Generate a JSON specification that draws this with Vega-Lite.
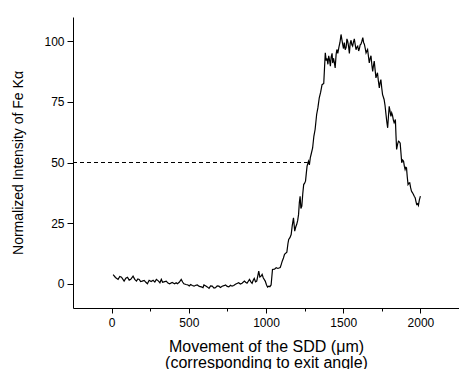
{
  "$schema": "https://vega.github.io/schema/vega-lite/v6.json",
  "width": 386,
  "height": 291,
  "autosize": {"type": "none"},
  "padding": {"left": 73, "top": 17, "right": 0, "bottom": 61},
  "background": "white",
  "config": {
    "view": {"stroke": null},
    "font": "Liberation Sans",
    "axis": {
      "domainColor": "black",
      "tickColor": "black",
      "labelColor": "black",
      "titleColor": "black",
      "labelFont": "Liberation Sans",
      "titleFont": "Liberation Sans",
      "titleFontWeight": "normal",
      "labelFontSize": 12,
      "grid": false,
      "domainWidth": 1,
      "tickWidth": 1
    }
  },
  "datasets": {
    "curve": [
      {"x": 10, "y": 3.8}, {"x": 25, "y": 2.6}, {"x": 42, "y": 1.8}, {"x": 53, "y": 3.0}, {"x": 64, "y": 2.7}, {"x": 81, "y": 1.1},
      {"x": 92, "y": 2.3}, {"x": 103, "y": 2.7}, {"x": 114, "y": 1.5}, {"x": 124, "y": 1.8}, {"x": 139, "y": 3.1}, {"x": 150, "y": 1.8},
      {"x": 161, "y": 1.1}, {"x": 170, "y": 2.0}, {"x": 179, "y": 1.8}, {"x": 188, "y": 0.9}, {"x": 198, "y": 1.1}, {"x": 211, "y": 1.4},
      {"x": 222, "y": 0.6}, {"x": 232, "y": 0.0}, {"x": 243, "y": 1.4}, {"x": 256, "y": 0.9}, {"x": 269, "y": 1.4}, {"x": 280, "y": 0.7},
      {"x": 290, "y": 1.8}, {"x": 304, "y": 1.1}, {"x": 313, "y": 0.4}, {"x": 322, "y": 1.8}, {"x": 330, "y": 0.6}, {"x": 339, "y": 0.8},
      {"x": 354, "y": 1.1}, {"x": 365, "y": 0.3}, {"x": 376, "y": 0.0}, {"x": 392, "y": 0.5}, {"x": 408, "y": 0.0}, {"x": 418, "y": 0.4},
      {"x": 426, "y": 0.0}, {"x": 438, "y": 0.6}, {"x": 451, "y": 1.8}, {"x": 460, "y": 0.7}, {"x": 468, "y": 0.0}, {"x": 482, "y": -0.3},
      {"x": 495, "y": -0.5}, {"x": 503, "y": -0.9}, {"x": 512, "y": -0.3}, {"x": 523, "y": -0.7}, {"x": 534, "y": -1.0}, {"x": 545, "y": -0.6},
      {"x": 555, "y": -0.5}, {"x": 568, "y": -1.1}, {"x": 582, "y": -1.3}, {"x": 592, "y": -1.6}, {"x": 598, "y": -0.5}, {"x": 613, "y": -1.0},
      {"x": 622, "y": -1.4}, {"x": 631, "y": -1.9}, {"x": 641, "y": -0.9}, {"x": 652, "y": -1.0}, {"x": 663, "y": -1.8}, {"x": 673, "y": -1.6},
      {"x": 684, "y": -0.9}, {"x": 695, "y": -1.0}, {"x": 705, "y": -1.5}, {"x": 716, "y": -1.0}, {"x": 727, "y": -0.8}, {"x": 738, "y": -0.5},
      {"x": 749, "y": -1.1}, {"x": 759, "y": -1.3}, {"x": 770, "y": -0.6}, {"x": 780, "y": -1.0}, {"x": 791, "y": -0.7}, {"x": 802, "y": -0.2},
      {"x": 812, "y": 0.1}, {"x": 823, "y": 0.4}, {"x": 834, "y": -0.1}, {"x": 845, "y": 0.2}, {"x": 860, "y": 1.1}, {"x": 868, "y": 0.6},
      {"x": 877, "y": 0.2}, {"x": 893, "y": 1.8}, {"x": 902, "y": 0.8}, {"x": 910, "y": 0.2}, {"x": 917, "y": 1.4}, {"x": 924, "y": 2.2},
      {"x": 932, "y": 0.8}, {"x": 940, "y": 1.1}, {"x": 947, "y": 3.2}, {"x": 953, "y": 5.2}, {"x": 960, "y": 2.8}, {"x": 967, "y": 3.1},
      {"x": 975, "y": 3.9}, {"x": 982, "y": 2.5}, {"x": 995, "y": 1.1}, {"x": 1003, "y": -0.4}, {"x": 1010, "y": -1.4}, {"x": 1018, "y": -1.0},
      {"x": 1025, "y": -1.2}, {"x": 1033, "y": -0.5}, {"x": 1042, "y": 5.9}, {"x": 1055, "y": 6.0}, {"x": 1066, "y": 6.6}, {"x": 1077, "y": 6.3},
      {"x": 1092, "y": 6.7}, {"x": 1099, "y": 8.0}, {"x": 1105, "y": 9.3}, {"x": 1113, "y": 10.6}, {"x": 1120, "y": 12.1}, {"x": 1135, "y": 13.0},
      {"x": 1142, "y": 16.5}, {"x": 1147, "y": 18.3}, {"x": 1155, "y": 19.0}, {"x": 1163, "y": 20.3}, {"x": 1170, "y": 24.0}, {"x": 1178, "y": 27.2},
      {"x": 1186, "y": 21.7}, {"x": 1193, "y": 23.5}, {"x": 1199, "y": 24.5}, {"x": 1205, "y": 26.0}, {"x": 1211, "y": 28.6}, {"x": 1216, "y": 33.5},
      {"x": 1221, "y": 36.1}, {"x": 1226, "y": 31.0}, {"x": 1232, "y": 32.0}, {"x": 1238, "y": 37.0}, {"x": 1244, "y": 40.9}, {"x": 1250, "y": 41.5},
      {"x": 1256, "y": 42.3}, {"x": 1261, "y": 45.5}, {"x": 1266, "y": 48.5}, {"x": 1275, "y": 50.5}, {"x": 1281, "y": 49.0}, {"x": 1287, "y": 52.0},
      {"x": 1292, "y": 53.3}, {"x": 1302, "y": 56.0}, {"x": 1310, "y": 60.8}, {"x": 1318, "y": 63.6}, {"x": 1328, "y": 69.8}, {"x": 1336, "y": 72.5},
      {"x": 1345, "y": 76.7}, {"x": 1354, "y": 79.0}, {"x": 1363, "y": 82.1}, {"x": 1374, "y": 82.6}, {"x": 1379, "y": 89.0}, {"x": 1384, "y": 95.2},
      {"x": 1390, "y": 92.0}, {"x": 1395, "y": 93.0}, {"x": 1401, "y": 90.5}, {"x": 1406, "y": 94.0}, {"x": 1411, "y": 92.5}, {"x": 1417, "y": 89.7},
      {"x": 1422, "y": 93.5}, {"x": 1428, "y": 95.0}, {"x": 1432, "y": 91.0}, {"x": 1437, "y": 93.0}, {"x": 1442, "y": 91.5}, {"x": 1448, "y": 89.0},
      {"x": 1454, "y": 94.5}, {"x": 1459, "y": 96.6}, {"x": 1465, "y": 95.0}, {"x": 1472, "y": 97.5}, {"x": 1479, "y": 99.5}, {"x": 1486, "y": 102.8},
      {"x": 1492, "y": 100.5}, {"x": 1497, "y": 98.6}, {"x": 1502, "y": 97.0}, {"x": 1507, "y": 99.5}, {"x": 1513, "y": 96.5}, {"x": 1519, "y": 97.5},
      {"x": 1524, "y": 101.0}, {"x": 1529, "y": 100.0}, {"x": 1535, "y": 97.8}, {"x": 1540, "y": 95.0}, {"x": 1545, "y": 99.0}, {"x": 1551, "y": 100.4},
      {"x": 1556, "y": 98.5}, {"x": 1561, "y": 98.0}, {"x": 1566, "y": 99.5}, {"x": 1572, "y": 101.0}, {"x": 1578, "y": 98.5}, {"x": 1583, "y": 96.5},
      {"x": 1588, "y": 97.5}, {"x": 1594, "y": 98.0}, {"x": 1600, "y": 96.0}, {"x": 1605, "y": 97.0}, {"x": 1610, "y": 98.5}, {"x": 1615, "y": 98.8},
      {"x": 1621, "y": 100.0}, {"x": 1627, "y": 101.5}, {"x": 1632, "y": 99.5}, {"x": 1637, "y": 98.8}, {"x": 1643, "y": 97.0}, {"x": 1648, "y": 95.2},
      {"x": 1653, "y": 96.0}, {"x": 1658, "y": 96.6}, {"x": 1664, "y": 93.5}, {"x": 1669, "y": 91.1}, {"x": 1675, "y": 93.0}, {"x": 1680, "y": 94.0},
      {"x": 1686, "y": 90.0}, {"x": 1691, "y": 87.6}, {"x": 1696, "y": 90.0}, {"x": 1701, "y": 91.8}, {"x": 1707, "y": 88.0}, {"x": 1712, "y": 84.9},
      {"x": 1717, "y": 86.0}, {"x": 1722, "y": 87.0}, {"x": 1728, "y": 83.5}, {"x": 1734, "y": 80.8}, {"x": 1739, "y": 83.0}, {"x": 1744, "y": 84.2},
      {"x": 1750, "y": 80.5}, {"x": 1755, "y": 78.0}, {"x": 1760, "y": 77.0}, {"x": 1765, "y": 76.0}, {"x": 1771, "y": 73.5}, {"x": 1776, "y": 70.5},
      {"x": 1782, "y": 67.0}, {"x": 1788, "y": 64.3}, {"x": 1793, "y": 69.0}, {"x": 1798, "y": 73.2}, {"x": 1804, "y": 71.0}, {"x": 1809, "y": 69.0},
      {"x": 1814, "y": 70.5}, {"x": 1819, "y": 69.5}, {"x": 1825, "y": 67.5}, {"x": 1830, "y": 66.4}, {"x": 1834, "y": 67.0}, {"x": 1838, "y": 67.7},
      {"x": 1842, "y": 61.0}, {"x": 1846, "y": 55.4}, {"x": 1852, "y": 57.5}, {"x": 1858, "y": 58.8}, {"x": 1864, "y": 58.5}, {"x": 1869, "y": 58.0},
      {"x": 1874, "y": 54.0}, {"x": 1879, "y": 49.9}, {"x": 1885, "y": 51.0}, {"x": 1891, "y": 50.5}, {"x": 1896, "y": 48.5}, {"x": 1901, "y": 47.1},
      {"x": 1906, "y": 48.0}, {"x": 1910, "y": 47.8}, {"x": 1915, "y": 44.0}, {"x": 1920, "y": 40.9}, {"x": 1926, "y": 41.5}, {"x": 1931, "y": 41.6},
      {"x": 1937, "y": 39.5}, {"x": 1942, "y": 38.2}, {"x": 1949, "y": 37.5}, {"x": 1955, "y": 36.8}, {"x": 1961, "y": 36.0}, {"x": 1966, "y": 35.5},
      {"x": 1971, "y": 34.0}, {"x": 1976, "y": 32.7}, {"x": 1982, "y": 33.0}, {"x": 1987, "y": 32.3}, {"x": 1993, "y": 34.5}, {"x": 2000, "y": 36.1}
    ],
    "ref": [{"x": -250, "x2": 1270, "y": 50}]
  },
  "layer": [
    {
      "data": {"name": "ref"},
      "mark": {"type": "rule", "color": "black", "strokeWidth": 1, "strokeDash": [4, 3]},
      "encoding": {
        "x": {"field": "x", "type": "quantitative"},
        "x2": {"field": "x2"},
        "y": {"field": "y", "type": "quantitative"}
      }
    },
    {
      "data": {"name": "curve"},
      "mark": {"type": "line", "color": "black", "strokeWidth": 1.2, "interpolate": "linear"},
      "encoding": {
        "x": {
          "field": "x",
          "type": "quantitative",
          "scale": {"domain": [-250, 2250], "nice": false, "zero": false},
          "axis": {
            "values": [250, 750, 1250, 1750, 0, 500, 1000, 1500, 2000],
            "labelExpr": "datum.value % 500 === 0 ? datum.label : ''",
            "format": "d",
            "tickSize": {"condition": {"test": "datum.value % 500 !== 0", "value": 3}, "value": 5},
            "labelPadding": 4,
            "labelFontSize": 12,
            "title": ["Movement of the SDD (μm)", "(corresponding to exit angle)"],
            "titleFontSize": 16,
            "titleLineHeight": 16,
            "titlePadding": 10
          }
        },
        "y": {
          "field": "y",
          "type": "quantitative",
          "scale": {"domain": [-10, 110], "nice": false, "zero": false},
          "axis": {
            "values": [12.5, 37.5, 62.5, 87.5, 0, 25, 50, 75, 100],
            "labelExpr": "datum.value % 25 === 0 ? datum.label : ''",
            "format": "d",
            "tickSize": {"condition": {"test": "datum.value % 25 !== 0", "value": 3}, "value": 6},
            "labelPadding": 3,
            "labelFontSize": 12,
            "title": "Normalized Intensity of Fe Kα",
            "titleFontSize": 14,
            "titlePadding": 18
          }
        }
      }
    }
  ]
}
